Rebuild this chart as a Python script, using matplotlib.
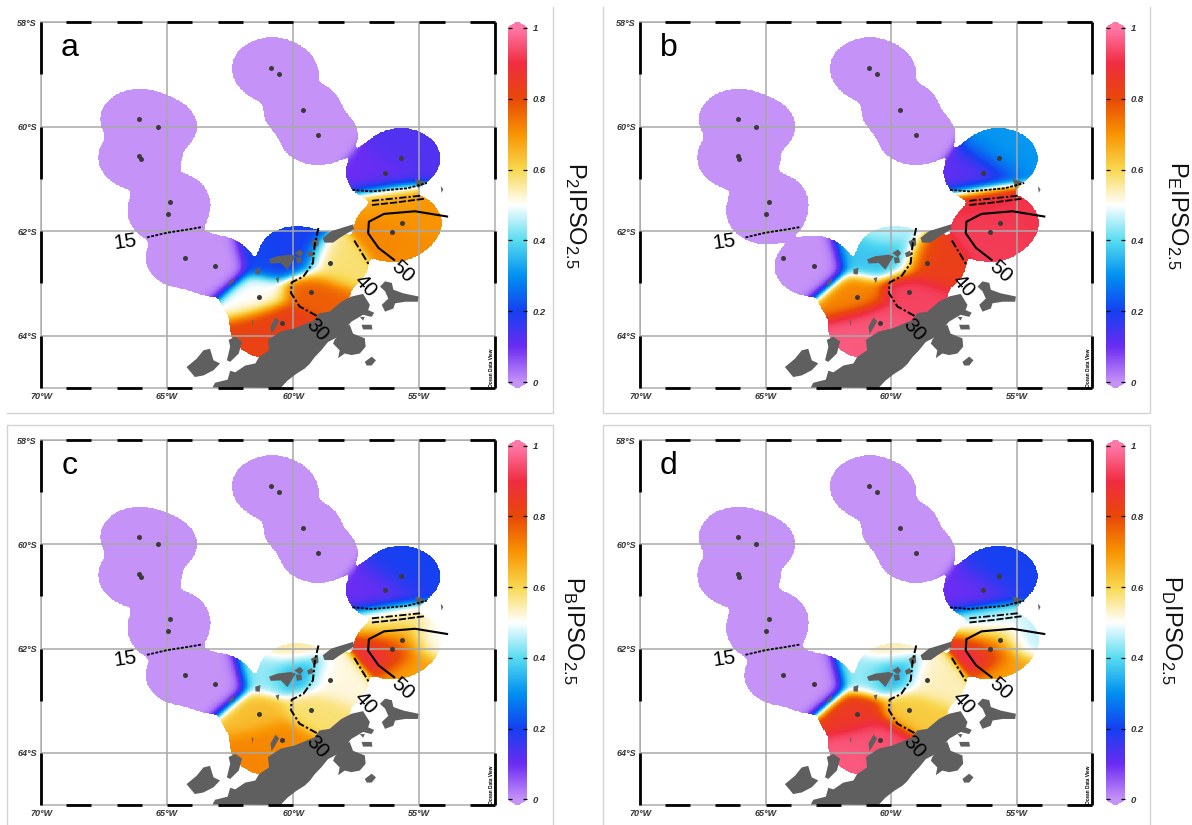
import matplotlib
matplotlib.use("Agg")
import matplotlib.pyplot as plt
import numpy as np
from matplotlib.colors import LinearSegmentedColormap
from matplotlib.cm import ScalarMappable
from matplotlib.colors import Normalize
from matplotlib.lines import Line2D

plt.rcParams['font.family'] = ['Liberation Sans', 'DejaVu Sans']
plt.rcParams['mathtext.fontset'] = 'custom'
plt.rcParams['mathtext.rm'] = 'Liberation Sans'
plt.rcParams['mathtext.default'] = 'regular'

# stations seen on the map
station_lon = [-66.1, -65.37, -66.1, -66.04, -64.88, -64.97, -64.3, -63.09,
               -60.87, -60.57, -59.63, -59.0,
               -55.72, -56.36, -55.67, -56.07, -58.56, -59.3, -61.35, -60.45]
station_lat = [-59.86, -60.0, -60.57, -60.62, -61.44, -61.67, -62.51, -62.67,
               -58.88, -58.99, -59.69, -60.16,
               -60.61, -60.88, -61.84, -62.01, -62.6, -63.17, -63.25, -63.76]
# two more that set the coloured area (blue lobe, southern tip), not drawn as dots
hidden_lon = [-59.85, -60.95]
hidden_lat = [-62.48, -63.85]
# values only, to get the colour gradients inside the lobes
extra_lon = [-60.1, -60.9, -54.6, -56.0, -55.2]
extra_lat = [-62.0, -62.5, -61.8, -61.5, -62.4]

west = [0.0] * 6
north = [0.0] * 4
values_a = west + [0.0, 0.0] + north + [0.13, 0.10, 0.70, 0.72, 0.58, 0.77, 0.50, 0.84, 0.18, 0.82, 0.20, 0.21, 0.70, 0.68, 0.71]
values_b = west + [np.nan, 0.0] + north + [0.31, 0.11, 0.92, 0.92, 0.83, 0.93, 0.72, 0.95, 0.36, 0.96, 0.46, 0.37, 0.91, 0.90, 0.92]
values_c = west + [0.0, 0.0] + north + [0.20, 0.10, 0.66, 0.91, 0.52, 0.58, 0.64, 0.71, 0.32, 0.72, 0.56, 0.44, 0.50, 0.55, 0.68]
values_d = west + [0.0, 0.0] + north + [0.20, 0.10, 0.55, 0.93, 0.54, 0.62, 0.85, 0.94, 0.32, 0.96, 0.55, 0.44, 0.46, 0.46, 0.68]

panel_letters = ['a', 'b', 'c', 'd']
panel_labels = ['P$_{2}$IPSO$_{2.5}$', 'P$_{E}$IPSO$_{2.5}$', 'P$_{B}$IPSO$_{2.5}$', 'P$_{D}$IPSO$_{2.5}$']
panel_values = [values_a, values_b, values_c, values_d]

# left, top, right, bottom in pixels of the 1192x825 image
panel_boxes = [(41, 22, 495, 388), (640, 22, 1092, 388), (41, 440, 495, 805), (640, 440, 1092, 805)]
cbar_boxes = [(508, 22, 527, 388), (1106, 22, 1125, 388), (508, 440, 527, 805), (1106, 440, 1125, 805)]
label_pos = [(575, 215), (1177, 215), (573, 630), (1171, 630)]

lon_ticks = [-70, -65, -60, -55]
lon_labels = ['70°W', '65°W', '60°W', '55°W']
lat_ticks = [-64, -62, -60, -58]
lat_labels = ['64°S', '62°S', '60°S', '58°S']

cmap_pos = [0, 0.1, 0.2, 0.3, 0.4, 0.5, 0.6, 0.7, 0.8, 0.9, 1]
cmap_col = ['#c592f8', '#6a2cf2', '#1440f0', '#0090f0', '#58dcf0', '#ffffff',
            '#f8d850', '#f89400', '#e84808', '#f02c40', '#ff78a8']

# land, lon/lat traced by eye
peninsula = [(-63.2, -64.99), (-63.1, -64.9), (-62.6, -64.84), (-62.5, -64.67), (-62.3, -64.7), (-61.9, -64.57),
             (-61.5, -64.53), (-61.36, -64.41), (-60.96, -64.28), (-61.0, -64.08), (-60.5, -63.92), (-59.95, -63.86),
             (-59.15, -63.7), (-58.96, -63.57), (-58.56, -63.54), (-58.09, -63.35), (-57.69, -63.25), (-57.23, -63.2),
             (-56.96, -63.41), (-57.03, -63.51), (-56.79, -63.56), (-56.89, -63.64), (-57.23, -63.6), (-57.69, -63.73),
             (-58.22, -64.02), (-58.62, -64.12), (-58.89, -64.28), (-59.15, -64.41), (-59.35, -64.54), (-59.55, -64.63),
             (-59.88, -64.73), (-60.23, -64.86), (-60.5, -65.0)]
brabant = [(-64.23, -64.6), (-63.83, -64.44), (-63.56, -64.28), (-63.3, -64.25), (-63.16, -64.47), (-62.9, -64.53),
           (-63.16, -64.66), (-63.56, -64.76), (-63.9, -64.79)]
anvers = [(-62.63, -64.47), (-62.5, -64.21), (-62.56, -64.08), (-62.3, -64.02), (-62.03, -64.11), (-62.16, -64.34),
          (-62.5, -64.5)]
james_ross = [(-58.36, -64.08), (-57.96, -63.83), (-57.76, -63.79), (-57.63, -63.96), (-57.16, -64.05), (-57.13, -64.21),
              (-57.36, -64.34), (-57.69, -64.37), (-57.96, -64.34), (-58.22, -64.43), (-58.16, -64.28), (-58.42, -64.15)]
joinville = [(-56.56, -63.06), (-56.36, -62.96), (-56.09, -62.99), (-56.03, -63.12), (-55.63, -63.19), (-55.03, -63.25),
             (-55.06, -63.35), (-55.56, -63.35), (-55.96, -63.38), (-56.03, -63.48), (-56.36, -63.54), (-56.49, -63.41),
             (-56.23, -63.29), (-56.36, -63.15)]
snow_hill = [(-57.16, -64.5), (-56.89, -64.4), (-56.72, -64.47), (-56.89, -64.57), (-57.09, -64.57)]
vega = [(-57.29, -63.79), (-56.89, -63.79), (-56.86, -63.88), (-57.23, -63.88)]
lockyer = [(-57.36, -63.64), (-57.16, -63.64), (-57.23, -63.71)]
king_george = [(-60.96, -62.54), (-60.63, -62.48), (-60.1, -62.45), (-59.9, -62.48), (-60.03, -62.58), (-60.23, -62.74),
               (-60.49, -62.61), (-60.89, -62.62)]
elephant = [(-58.83, -62.13), (-58.49, -62.0), (-57.62, -61.87), (-57.59, -61.96), (-58.16, -62.13), (-58.42, -62.22),
            (-58.76, -62.22)]
shetland_a = [(-59.95, -62.42), (-59.73, -62.35), (-59.6, -62.42), (-59.73, -62.5)]
shetland_b = [(-59.9, -62.5), (-59.68, -62.5), (-59.65, -62.6), (-59.85, -62.62)]
shetland_c = [(-59.45, -62.42), (-59.25, -62.37), (-59.2, -62.47), (-59.4, -62.5)]
shetland_d = [(-59.3, -62.2), (-59.02, -62.12), (-59.0, -62.27), (-59.2, -62.32)]
islet_a = [(-61.5, -62.73), (-61.3, -62.7), (-61.33, -62.83), (-61.5, -62.82)]
islet_b = [(-62.56, -63.0), (-62.36, -62.9), (-62.36, -62.97), (-62.56, -63.05)]
islet_c = [(-60.7, -62.9), (-60.55, -62.88), (-60.6, -63.0)]
islet_d = [(-61.65, -63.7), (-61.58, -63.73), (-61.62, -63.82)]
islet_e = [(-60.9, -63.82), (-60.7, -63.65), (-60.56, -63.72), (-60.7, -63.85), (-60.86, -63.97)]
islet_f = [(-55.17, -61.0), (-54.75, -61.06), (-55.05, -61.18)]
islet_g = [(-54.15, -61.14), (-54.05, -61.2), (-54.12, -61.27)]
land = [peninsula, brabant, anvers, james_ross, joinville, snow_hill, vega, lockyer, king_george, elephant,
        shetland_a, shetland_b, shetland_c, shetland_d, islet_a, islet_b, islet_c, islet_d, islet_e, islet_f, islet_g]

# contour lines, traced by eye
c15_w = [(-65.8, -62.12), (-65.0, -62.03), (-64.2, -61.97), (-63.6, -61.92)]
c15_e = [(-57.66, -61.21), (-56.9, -61.24), (-56.4, -61.22), (-55.47, -61.18), (-54.7, -61.08)]
c30_n = [(-56.88, -61.42), (-55.9, -61.37), (-54.9, -61.32)]
c30 = [(-59.0, -61.94), (-59.14, -62.23), (-59.22, -62.61), (-59.6, -62.87), (-60.06, -62.98), (-60.09, -63.18),
       (-59.75, -63.44), (-59.07, -63.62)]
c40_n = [(-56.88, -61.5), (-55.9, -61.45), (-54.8, -61.38)]
c40 = [(-57.58, -62.18), (-57.0, -62.64)]
c50 = [(-56.0, -62.55), (-56.62, -62.32), (-57.03, -62.04), (-57.0, -61.82), (-56.4, -61.67), (-55.17, -61.62),
       (-53.9, -61.72)]
contour_text = ['15', '30', '40', '50']
contour_text_lon = [-66.65, -59.07, -57.12, -55.66]
contour_text_lat = [-62.2, -63.89, -63.04, -62.77]
contour_text_rot = [8, -48, -48, -42]

FIG_W, FIG_H = 1192, 825


def px_axes(fig, box):
    l, t, r, b = box
    return fig.add_axes([l / FIG_W, 1 - b / FIG_H, (r - l) / FIG_W, (b - t) / FIG_H])


def grid_field(values, lon2, lat2):
    values = np.array(values, dtype=float)
    lons = np.array(station_lon + hidden_lon + extra_lon)
    lats = np.array(station_lat + hidden_lat + extra_lat)
    n_mask = len(station_lon) + len(hidden_lon)
    ok = ~np.isnan(values)

    # distance in units of the ODV search ellipse, soft union so the necks fill in
    d2 = ((lon2[..., None] - lons) / 1.55) ** 2 + ((lat2[..., None] - lats) / 0.58) ** 2
    near = np.exp(-5 * d2[..., :n_mask][..., ok[:n_mask]]).sum(axis=-1) >= np.exp(-5)

    d2 = d2[..., ok]
    d2 = d2 - d2.min(axis=-1, keepdims=True)
    w = np.exp(-d2 / (2 * 0.36 ** 2))
    field = (w * values[ok]).sum(axis=-1) / w.sum(axis=-1)
    return np.ma.masked_where(~near, field)


cmap = LinearSegmentedColormap.from_list('odv', list(zip(cmap_pos, cmap_col)), N=512)
cmap.set_under(cmap_col[0])
cmap.set_over(cmap_col[-1])
norm = Normalize(0, 1)

fig = plt.figure(figsize=(FIG_W / 100, FIG_H / 100), dpi=100)

grid_lon = np.linspace(-70, -52, 720)
grid_lat = np.linspace(-65, -58, 560)
lon2, lat2 = np.meshgrid(grid_lon, grid_lat)

for i in range(4):
    ax = px_axes(fig, panel_boxes[i])
    ax.pcolormesh(grid_lon, grid_lat, grid_field(panel_values[i], lon2, lat2), cmap=cmap, norm=norm,
                  shading='auto', zorder=1, rasterized=True)
    ax.set_xlim(-70, -52)
    ax.set_ylim(-65, -58)

    ax.set_xticks(lon_ticks)
    ax.set_xticklabels(lon_labels)
    ax.set_yticks(lat_ticks)
    ax.set_yticklabels(lat_labels)
    ax.tick_params(length=0, pad=3, labelsize=6.5, labelcolor='#333333')
    for t in ax.get_xticklabels() + ax.get_yticklabels():
        t.set_fontstyle('italic')
        t.set_fontweight('bold')
    ax.grid(color='#a8a8a8', lw=1.1, zorder=2)
    ax.set_axisbelow(False)
    for s in ax.spines.values():
        s.set_color('#b5b5b5')
        s.set_linewidth(1.2)

    for poly in land:
        xs, ys = zip(*poly)
        ax.fill(xs, ys, color='#5f5f5f', lw=0, zorder=3)

    dash = (0, (1.6, 0.8))
    dashdot = (0, (4, 1.2, 1.2, 1.2))
    for line, ls, lw in [(c15_w, dash, 1.3), (c15_e, dash, 1.3), (c30_n, dashdot, 1.3), (c40_n, (0, (4, 1)), 1.3),
                         (c30, dashdot, 1.4), (c40, dashdot, 1.4), (c50, '-', 1.5)]:
        xs, ys = zip(*line)
        ax.plot(xs, ys, color='black', ls=ls, lw=lw, zorder=4)

    for txt, x, y, r in zip(contour_text, contour_text_lon, contour_text_lat, contour_text_rot):
        ax.text(x, y, txt, rotation=r, ha='center', va='center', fontsize=15, color='black', zorder=6)

    ax.scatter(station_lon, station_lat, s=13, color='#3a3a3a', lw=0, zorder=5)
    ax.text(-68.85, -58.5, panel_letters[i], fontsize=23, ha='center', va='center', color='black', zorder=6)
    ax.text(-52.05, -64.98, 'Ocean Data View', fontsize=3.4, fontweight='bold', rotation=90, ha='right', va='bottom', zorder=6)

    # ODV style frame, black every other degree
    for x0 in range(-69, -52, 2):
        for y0 in (-65, -58):
            ax.add_line(Line2D([x0, x0 + 1], [y0, y0], color='black', lw=2, clip_on=False, solid_capstyle='butt', zorder=7))
    for y0 in range(-65, -58, 2):
        for x0 in (-70, -52):
            ax.add_line(Line2D([x0, x0], [y0, y0 + 1], color='black', lw=2, clip_on=False, solid_capstyle='butt', zorder=7))

    cax = px_axes(fig, cbar_boxes[i])
    cb = fig.colorbar(ScalarMappable(norm=norm, cmap=cmap), cax=cax, extend='both', extendfrac=0.016)
    cb.set_ticks([0, 0.2, 0.4, 0.6, 0.8, 1])
    cb.set_ticklabels(['0', '0.2', '0.4', '0.6', '0.8', '1'])
    cb.outline.set_visible(False)
    cax.tick_params(direction='in', left=True, right=True, length=3, width=0.9, pad=4, labelsize=6.8, labelcolor='#333333')
    for t in cax.get_yticklabels():
        t.set_fontstyle('italic')
        t.set_fontweight('bold')

    x, y = label_pos[i]
    fig.text(x / FIG_W, 1 - y / FIG_H, panel_labels[i], rotation=270, fontsize=17, ha='center', va='center', color='#111111')

# thin boxes round the panels
frames = [[(7, 413), (553, 413), (553, 7)],
          [(603, 7), (603, 413), (1150, 413), (1150, 7)],
          [(7, 825), (7, 425), (553, 425), (553, 825)],
          [(603, 825), (603, 425), (1150, 425), (1150, 825)]]
for fr in frames:
    xs = [p[0] / FIG_W for p in fr]
    ys = [1 - p[1] / FIG_H for p in fr]
    fig.add_artist(Line2D(xs, ys, color='#d4d4d4', lw=1))

fig.savefig('out.png', dpi=100)
